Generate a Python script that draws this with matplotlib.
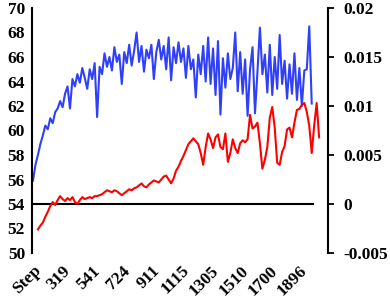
import matplotlib
matplotlib.use("Agg")
import matplotlib.pyplot as plt
import numpy as np

plt.rcParams["font.family"] = ["Liberation Serif", "DejaVu Serif"]
plt.rcParams["font.weight"] = "bold"

# x category labels (every 12th category is labelled)
step_labels = ["Step", "319", "541", "724", "911", "1115", "1305", "1510", "1700", "1896"]
label_every = 12

# blue series, left axis
accuracy = [
    55.9, 57.2, 58.0, 58.9, 59.6, 60.4, 60.1, 61.0, 60.6, 61.5,
    61.8, 62.4, 61.9, 63.0, 63.6, 61.8, 64.2, 63.6, 64.6, 63.9,
    65.1, 64.3, 63.4, 65.0, 64.2, 65.5, 61.1, 65.2, 64.6, 66.3,
    65.2, 66.0, 64.9, 66.8, 65.6, 66.2, 63.8, 66.4, 65.5, 67.0,
    65.3, 66.5, 68.0, 65.6, 66.9, 64.8, 66.6, 65.9, 67.0, 64.2,
    66.4, 67.4, 65.8, 66.9, 65.0, 67.6, 64.1, 66.8, 65.5, 67.2,
    65.6, 66.7, 64.3, 66.9, 65.0, 65.8, 62.7, 66.2, 64.6, 66.9,
    64.0, 67.6, 63.8, 66.7, 62.9, 67.3, 61.3, 65.9, 63.5, 66.3,
    64.2, 65.1, 68.0, 63.2, 66.4, 63.0, 65.8, 61.2, 65.0, 66.8,
    61.4, 64.8, 68.4, 64.6, 66.2, 63.1, 67.0, 62.9, 66.0, 63.4,
    67.8, 63.8, 65.7, 62.6, 65.4, 63.0, 66.3, 62.5, 65.1, 62.0,
    64.9, 65.0, 68.5, 62.2,
]

# red series, right axis (first two categories empty)
metric = [
    np.nan, np.nan, -0.0026, -0.0022, -0.0019, -0.0013, -0.0008, -0.0002, 0.0002, -0.0001,
    0.0004, 0.0008, 0.0005, 0.0003, 0.0006, 0.0004, 0.0007, 0.0002, 0.0000, 0.0004,
    0.0007, 0.0005, 0.0006, 0.0007, 0.0006, 0.0008, 0.0008, 0.0009, 0.0010, 0.0012,
    0.0014, 0.0013, 0.0012, 0.0014, 0.0013, 0.0011, 0.0009, 0.0011, 0.0013, 0.0015,
    0.0014, 0.0016, 0.0017, 0.0019, 0.0021, 0.0018, 0.0017, 0.0020, 0.0022, 0.0024,
    0.0023, 0.0022, 0.0025, 0.0028, 0.0029, 0.0025, 0.0021, 0.0026, 0.0034, 0.0038,
    0.0044, 0.0049, 0.0055, 0.0061, 0.0064, 0.0067, 0.0064, 0.0061, 0.0052, 0.0040,
    0.0058, 0.0072, 0.0066, 0.0057, 0.0068, 0.0071, 0.0058, 0.0056, 0.0072, 0.0043,
    0.0052, 0.0066, 0.0057, 0.0052, 0.0062, 0.0065, 0.0063, 0.0066, 0.0091, 0.0077,
    0.0079, 0.0083, 0.0062, 0.0036, 0.0045, 0.0058, 0.0088, 0.0099, 0.0078, 0.0042,
    0.0040, 0.0053, 0.0059, 0.0076, 0.0078, 0.0068, 0.0083, 0.0096, 0.0097, 0.0101,
    0.0103, 0.0094, 0.0080, 0.0052, 0.0080, 0.0103, 0.0068,
]

left_ticks = list(range(50, 71, 2))
right_ticks = [-0.005, 0, 0.005, 0.01, 0.015, 0.02]
right_labels = ["-0.005", "0", "0.005", "0.01", "0.015", "0.02"]

fig = plt.figure(figsize=(3.9, 3.01), dpi=100)
ax = fig.add_axes([32 / 390, 48 / 301, 296 / 390, 245 / 301])
ax2 = ax.twinx()

ax.plot(np.arange(len(accuracy)), accuracy, color="#3040f8", linewidth=1.5)
ax.axhline(54, xmin=0, xmax=(313 - 32) / 296, color="black", linewidth=1.5)
ax2.plot(np.arange(len(metric)), metric, color="#ff0000", linewidth=1.5)

ax.set_xlim(-0.4, 119.6)
ax.set_ylim(50, 70)
ax2.set_ylim(-0.005, 0.02)

ax.set_yticks(left_ticks)
ax.set_yticklabels([str(v) for v in left_ticks])
ax2.set_yticks(right_ticks)
ax2.set_yticklabels(right_labels)

ax.set_xticks(np.arange(len(step_labels)) * label_every)
ax.set_xticklabels(step_labels, rotation=45, ha="right", va="top", rotation_mode="anchor")

for a in (ax, ax2):
    a.spines["top"].set_visible(False)
    a.spines["bottom"].set_visible(False)
    a.tick_params(labelsize=12.5)
ax.spines["right"].set_visible(False)
ax2.spines["left"].set_visible(False)
ax.spines["left"].set_linewidth(1.5)
ax2.spines["right"].set_linewidth(1.5)

ax.tick_params(axis="y", length=0, pad=5)
ax.tick_params(axis="x", length=0, pad=7)
ax2.tick_params(axis="y", length=4, width=1.3, pad=7, direction="out")

fig.savefig("out.png", dpi=100)
